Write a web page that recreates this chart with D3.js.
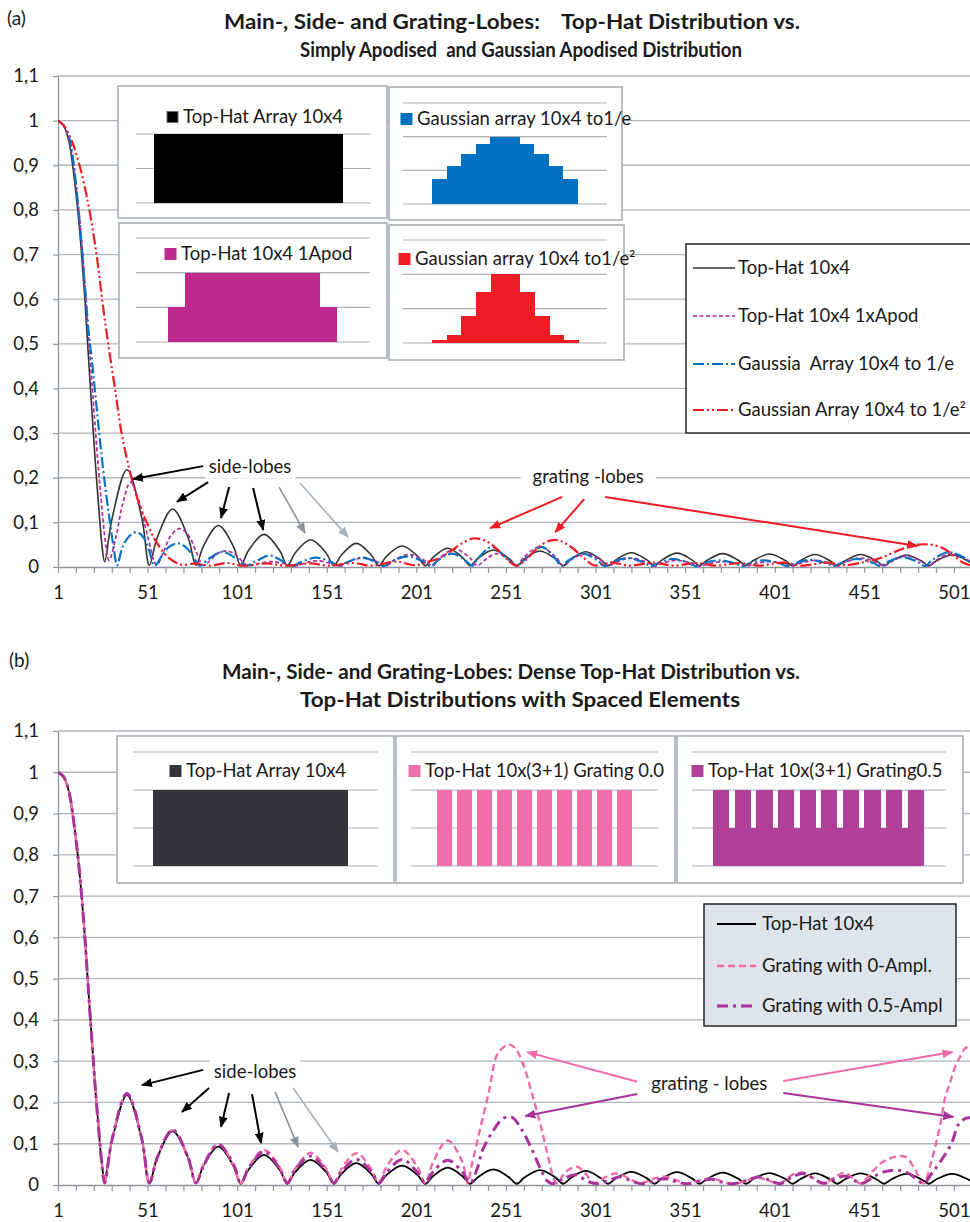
<!DOCTYPE html>
<html>
<head>
<meta charset="utf-8">
<script src="https://cdn.jsdelivr.net/npm/d3@7"></script>
<style>
  body { margin: 0; background: #fff; }
  svg text { font-family: Lato, "Open Sans", "DejaVu Sans", sans-serif; fill: #1a1a1a; }
</style>
</head>
<body>
<svg id="chart" width="970" height="1222"></svg>
<script>
// ---------- axis ticks ----------
const yTickValues = [0, 0.1, 0.2, 0.3, 0.4, 0.5, 0.6, 0.7, 0.8, 0.9, 1, 1.1];
const yTickLabels = ["0", "0,1", "0,2", "0,3", "0,4", "0,5", "0,6", "0,7", "0,8", "0,9", "1", "1,1"];
const xLabelValues = [1, 51, 101, 151, 201, 251, 301, 351, 401, 451, 501];
const xMinorValues = d3.range(1, 511, 10);

// ---------- panel (a) series: [index, relative amplitude] ----------
const topHat = [
  [1,1],[4,0.99],[7,0.955],[9,0.905],[12,0.80],[14,0.71],[16,0.60],[18,0.47],[20,0.345],[22,0.225],[24,0.12],[25.5,0.05],[27,0.012],
  [31.2,0.109],[39.5,0.218],[47.8,0.109],[52,0.004],
  [56.3,0.065],[65,0.130],[73.7,0.065],[78,0.004],
  [82.2,0.047],[90.5,0.093],[98.8,0.047],[103,0.003],
  [107.3,0.037],[116,0.073],[124.7,0.037],[129,0.003],
  [133.3,0.031],[142,0.061],[150.7,0.031],[155,0.003],
  [159.2,0.027],[167.5,0.053],[175.8,0.027],[180,0.003],
  [184.3,0.024],[193,0.047],[201.7,0.024],[206,0.003],
  [210.2,0.021],[218.5,0.042],[226.8,0.021],[231,0.003],
  [235.3,0.019],[244,0.038],[252.7,0.019],[257,0.003],
  [261.3,0.018],[270,0.036],[278.7,0.018],[283,0.003],
  [287.2,0.017],[295.5,0.034],[303.8,0.017],[308,0.003],
  [312.3,0.016],[321,0.032],[329.7,0.016],[334,0.003],
  [338.2,0.016],[346.5,0.031],[354.8,0.016],[359,0.003],
  [363.3,0.015],[372,0.030],[380.7,0.015],[385,0.003],
  [389.3,0.015],[398,0.029],[406.7,0.015],[411,0.003],
  [415.2,0.014],[423.5,0.028],[431.8,0.014],[436,0.003],
  [440.3,0.014],[449,0.028],[457.7,0.014],[462,0.003],
  [466.2,0.014],[474.5,0.027],[482.8,0.014],[487,0.003],
  [491.3,0.014],[500,0.027],[508.7,0.014],[513,0.003]
];
const topHatApod = [
  [1,1],[4,0.99],[7,0.96],[9,0.92],[12,0.82],[14,0.74],[16,0.635],[18,0.52],[20,0.41],[22,0.30],[24,0.20],[26,0.11],[28,0.04],[29.5,0.015],
  [33.5,0.07],[37,0.14],[41.5,0.19],[46,0.15],[51,0.07],[56,0.005],
  [60,0.035],[64,0.07],[69,0.086],[74,0.07],[78,0.035],[82,0.004],
  [86,0.015],[90,0.03],[95,0.036],[100,0.028],[104,0.012],[107,0.003],
  [111,0.006],[120,0.012],[129,0.006],[133,0.002],
  [137,0.007],[145.5,0.014],[154,0.007],[158,0.002],
  [162,0.01],[171,0.02],[180,0.01],[184,0.002],
  [188,0.014],[197,0.028],[206,0.014],[210,0.002],
  [214,0.02],[222.5,0.04],[231,0.02],[235,0.003],
  [239,0.015],[246,0.03],[253,0.015],[257,0.002],
  [261,0.022],[270,0.045],[279,0.022],[283,0.002],
  [287,0.015],[295.5,0.03],[304,0.015],[308,0.002],
  [312,0.01],[321,0.02],[330,0.01],[334,0.002],
  [338,0.008],[346.5,0.015],[355,0.008],[359,0.002],
  [363,0.006],[372,0.012],[381,0.006],[385,0.002],
  [389,0.006],[398,0.012],[407,0.006],[411,0.002],
  [415,0.008],[423.5,0.015],[432,0.008],[436,0.002],
  [440,0.01],[449,0.02],[458,0.01],[462,0.002],
  [466,0.012],[474.5,0.025],[483,0.012],[487,0.002],
  [491,0.015],[500,0.03],[509,0.015],[513,0.002]
];
const gaussE = [
  [1,1],[4,0.99],[7,0.965],[9,0.925],[12,0.82],[14,0.73],[16,0.63],[18,0.53],[20,0.46],[22,0.38],[24,0.30],[26,0.225],[28,0.16],[30,0.10],[32,0.045],[34,0.004],
  [37,0.045],[41,0.07],[45,0.078],[49,0.065],[52,0.035],[55,0.003],
  [59,0.025],[63,0.045],[68,0.053],[73,0.042],[77,0.02],[80,0.003],
  [85,0.018],[93,0.034],[100,0.02],[106,0.003],
  [112,0.014],[119,0.026],[126,0.014],[132,0.002],
  [136,0.01],[145,0.021],[154,0.01],[158,0.002],
  [162,0.01],[170.5,0.021],[179,0.01],[183,0.002],
  [187,0.012],[196,0.024],[205,0.012],[209,0.002],
  [213,0.015],[221,0.03],[228,0.016],[232,0.003],
  [236,0.022],[243,0.045],[251,0.022],[257,0.003],
  [263,0.022],[271,0.045],[278,0.022],[282,0.003],
  [286,0.015],[294,0.03],[302,0.015],[306,0.002],
  [310,0.01],[319,0.02],[328,0.01],[332,0.002],
  [336,0.009],[344,0.018],[353,0.009],[357,0.002],
  [361,0.008],[370,0.015],[379,0.008],[383,0.002],
  [387,0.008],[395,0.015],[404,0.008],[408,0.002],
  [412,0.008],[421,0.016],[430,0.008],[434,0.002],
  [438,0.009],[447,0.018],[456,0.009],[460,0.002],
  [464,0.011],[472,0.022],[481,0.011],[485,0.002],
  [489,0.016],[498,0.033],[507,0.02],[511,0.006]
];
const gaussE2 = [
  [1,1],[4,0.99],[7,0.97],[10,0.94],[13,0.90],[16,0.85],[18.5,0.80],[22.5,0.70],[25.6,0.60],[29,0.50],[32.8,0.40],[36.5,0.30],[42,0.20],[46,0.145],[50.5,0.10],[55,0.062],[60,0.032],[65,0.014],[70,0.005],
  [78,0.008],[86,0.003],[95,0.009],[104,0.003],[118,0.008],[128,0.003],[142,0.008],[152,0.003],[166,0.009],[176,0.003],[190,0.012],[200,0.004],
  [208,0.012],[214,0.02],[220,0.035],[226,0.052],[233,0.064],[240,0.058],[246,0.04],[252,0.016],[257,0.003],
  [262,0.016],[268,0.04],[274,0.057],[280,0.06],[287,0.046],[294,0.022],[300,0.004],
  [310,0.01],[320,0.003],[334,0.01],[344,0.003],[358,0.009],[368,0.003],[382,0.009],[392,0.003],[406,0.01],[416,0.003],[430,0.01],[440,0.004],
  [452,0.012],[460,0.02],[467,0.032],[474,0.043],[481,0.05],[488,0.05],[495,0.042],[501,0.025],[506,0.01],[510,0.004]
];

// ---------- panel (b) series ----------
const grating0 = [
  [1,1],[4,0.99],[7,0.955],[9,0.905],[12,0.80],[14,0.71],[16,0.60],[18,0.47],[20,0.345],[22,0.225],[24,0.12],[25.5,0.05],[27,0.005],
  [31.2,0.111],[39.5,0.222],[47.8,0.111],[52,0.004],
  [56.3,0.067],[65,0.133],[73.7,0.067],[78,0.004],
  [82.2,0.05],[90.5,0.100],[98.8,0.05],[103,0.004],
  [107.3,0.043],[116,0.085],[124.7,0.043],[129,0.004],
  [133.3,0.039],[142,0.078],[150.7,0.039],[155,0.004],
  [159.2,0.039],[167.5,0.077],[175.8,0.039],[180,0.004],
  [184.3,0.043],[193,0.085],[201.7,0.043],[206,0.004],
  [210.2,0.054],[218.5,0.108],[226.8,0.054],[229.5,0.005],
  [232,0.05],[236,0.125],[241.7,0.23],[246,0.315],[250,0.335],[253,0.34],[256,0.332],[260,0.30],[265.6,0.22],[270.6,0.14],[275,0.06],[278,0.012],[280,0.004],
  [283,0.025],[287,0.04],[291,0.044],[295,0.03],[300,0.005],
  [307,0.02],[313,0.028],[320,0.015],[326,0.004],
  [333,0.015],[340,0.02],[347,0.01],[352,0.003],
  [360,0.012],[366,0.016],[372,0.008],[378,0.003],
  [386,0.012],[392,0.018],[398,0.01],[404,0.004],
  [411,0.025],[417,0.03],[423,0.015],[428,0.004],
  [435,0.02],[440,0.03],[445,0.015],[449,0.004],
  [455,0.03],[461,0.055],[468,0.068],[474,0.068],[479,0.04],[484,0.004],
  [488,0.05],[491,0.10],[494,0.16],[496,0.21],[499,0.25],[502,0.29],[505,0.315],[507,0.33],[510,0.338]
];
const grating05 = [
  [1,1],[4,0.99],[7,0.955],[9,0.905],[12,0.80],[14,0.71],[16,0.60],[18,0.47],[20,0.345],[22,0.225],[24,0.12],[25.5,0.05],[27,0.005],
  [31.2,0.111],[39.5,0.222],[47.8,0.111],[52,0.005],
  [56.5,0.067],[65,0.134],[73.5,0.067],[78,0.005],
  [82.5,0.049],[90.5,0.098],[99,0.049],[103,0.005],
  [107.5,0.041],[116,0.081],[124.5,0.041],[129,0.005],
  [133,0.035],[142,0.07],[150.5,0.035],[155,0.005],
  [159,0.031],[167.5,0.062],[176,0.031],[180,0.005],
  [184.5,0.031],[193,0.062],[201.5,0.031],[206,0.005],
  [210,0.03],[218.5,0.06],[227,0.03],[231,0.005],
  [235,0.04],[238,0.085],[243,0.125],[249,0.16],[254,0.165],[260,0.133],[265.6,0.085],[270.6,0.036],[274,0.01],[277,0.003],
  [283,0.015],[290,0.025],[296,0.01],[302,0.003],
  [309,0.012],[315,0.02],[321,0.01],[327,0.003],
  [334,0.01],[340,0.015],[346,0.008],[352,0.003],
  [360,0.01],[366,0.014],[372,0.006],[378,0.003],
  [386,0.012],[392,0.02],[398,0.012],[404,0.003],
  [411,0.02],[417,0.028],[423,0.015],[428,0.004],
  [435,0.015],[440,0.022],[445,0.012],[450,0.004],
  [457,0.022],[463,0.033],[469,0.036],[475,0.03],[480,0.015],[484,0.004],
  [489,0.03],[494,0.06],[499.6,0.10],[504,0.15],[508,0.162],[510,0.163]
];

// ---------- aperture distributions shown in the insets ----------
const topHatBars   = [1,1,1,1,1,1,1,1,1,1];
const apodBars     = [0.5,1,1,1,1,1,1,1,1,0.5];
const gaussEBars   = [0.37,0.57,0.74,0.89,1,1,0.89,0.74,0.57,0.37];
const gaussE2Bars  = [0.045,0.12,0.39,0.75,1,1,0.75,0.39,0.12,0.045];
const grating0Bars = [1,1,1,0,1,1,1,0,1,1,1,0,1,1,1,0,1,1,1,0,1,1,1,0,1,1,1,0,1,1,1,0,1,1,1,0,1,1,1];
const grating05Bars= [1,1,1,0.5,1,1,1,0.5,1,1,1,0.5,1,1,1,0.5,1,1,1,0.5,1,1,1,0.5,1,1,1,0.5,1,1,1,0.5,1,1,1,0.5,1,1,1];

// ---------- legend labels ----------
const legendA = ["Top-Hat 10x4", "Top-Hat 10x4 1xApod", "Gaussia  Array 10x4 to 1/e", "Gaussian Array 10x4 to 1/e\u00B2"];
const legendB = ["Top-Hat 10x4", "Grating with 0-Ampl.", "Grating with 0.5-Ampl"];

// ---------- drawing ----------
const svg = d3.select("#chart");
const defs = svg.append("defs");
const X_LEFT = 58, X_RIGHT = 970;
const x = d3.scaleLinear().domain([1, 510]).range([X_LEFT, X_RIGHT]);

const styleA = [
  { data: topHat,     color: "#333333", width: 1.6, dash: null },
  { data: topHatApod, color: "#B52A9C", width: 1.7, dash: "4,2.5" },
  { data: gaussE,     color: "#0A72C4", width: 2.2, dash: "11,3,2,3" },
  { data: gaussE2,    color: "#EE1C25", width: 2.2, dash: "11,3,2,3,2,3" }
];
const styleB = [
  { data: topHat,    color: "#000000", width: 1.8, dash: null },
  { data: grating0,  color: "#F06AA8", width: 2.4, dash: "7,4" },
  { data: grating05, color: "#A8339A", width: 3,   dash: "11,5,3,5" }
];

function arrowMarker(color) {
  const id = "ah" + color.replace("#", "");
  if (defs.select("#" + id).empty()) {
    defs.append("marker").attr("id", id)
      .attr("viewBox", "0 0 11 9").attr("refX", 10).attr("refY", 4.5)
      .attr("markerWidth", 11).attr("markerHeight", 9)
      .attr("markerUnits", "userSpaceOnUse").attr("orient", "auto")
      .append("path").attr("d", "M0,0L11,4.5L0,9Z").attr("fill", color);
  }
  return id;
}

function drawPanel(cfg) {
  const g = svg.append("g");
  const y = d3.scaleLinear().domain([0, 1.1]).range([cfg.bottom, cfg.top]);

  // tag and title
  g.append("text").attr("x", cfg.tagX).attr("y", cfg.tagY).attr("font-size", 19).text(cfg.tag);
  cfg.title.forEach((t, i) => {
    g.append("text").attr("x", cfg.titleX[i]).attr("y", cfg.titleY[i])
      .attr("text-anchor", "middle").attr("font-weight", 700).attr("font-size", 20.5)
      .attr("textLength", cfg.titleLen[i]).attr("lengthAdjust", "spacingAndGlyphs")
      .style("white-space", "pre").text(t);
  });

  // horizontal gridlines
  g.append("g").selectAll("line").data(yTickValues.filter(v => v > 0)).join("line")
    .attr("x1", X_LEFT).attr("x2", X_RIGHT)
    .attr("y1", d => y(d)).attr("y2", d => y(d))
    .attr("stroke", "#AEB5BD").attr("stroke-width", 1.3);

  // y axis
  const yAxis = d3.axisLeft(y).tickValues(yTickValues)
    .tickFormat((d, i) => yTickLabels[i]).tickSize(5).tickPadding(14).tickSizeOuter(0);
  const ya = g.append("g").attr("transform", `translate(${X_LEFT},0)`).call(yAxis);
  ya.select(".domain").attr("stroke", "#8E959C").attr("stroke-width", 1.3);
  ya.selectAll(".tick line").attr("stroke", "#8E959C").attr("stroke-width", 1.2);
  ya.selectAll("text").attr("font-size", 18.5).attr("fill", "#1a1a1a").attr("font-family", "Lato, sans-serif");

  // x axis
  const xAxis = d3.axisBottom(x).tickValues(xMinorValues)
    .tickFormat(d => xLabelValues.includes(d) ? String(d) : "").tickSize(6).tickPadding(13).tickSizeOuter(0);
  const xa = g.append("g").attr("transform", `translate(0,${cfg.bottom})`).call(xAxis);
  xa.select(".domain").attr("stroke", "#8E959C").attr("stroke-width", 1.3);
  xa.selectAll(".tick line").attr("stroke", "#8E959C").attr("stroke-width", 1.2);
  xa.selectAll("text").attr("font-size", 18.5).attr("fill", "#1a1a1a").attr("font-family", "Lato, sans-serif");

  // curves
  const clipId = "clip" + cfg.tag.replace(/\W/g, "");
  defs.append("clipPath").attr("id", clipId).append("rect")
    .attr("x", X_LEFT).attr("y", cfg.top - 5).attr("width", X_RIGHT - X_LEFT).attr("height", cfg.bottom - cfg.top + 8);
  const line = d3.line().x(d => x(d[0])).y(d => y(Math.max(0, d[1]))).curve(d3.curveCatmullRom.alpha(0.5));
  const cg = g.append("g").attr("clip-path", `url(#${clipId})`);
  cfg.series.forEach(s => {
    cg.append("path").datum(s.data).attr("d", line)
      .attr("fill", "none").attr("stroke", s.color).attr("stroke-width", s.width)
      .attr("stroke-dasharray", s.dash).attr("stroke-linejoin", "round");
  });

  // insets
  cfg.insets.forEach(ins => drawInset(g, ins));

  // legend
  const L = cfg.legend;
  const lg = g.append("g");
  lg.append("rect").attr("x", L.x).attr("y", L.y).attr("width", L.w).attr("height", L.h)
    .attr("fill", L.fill).attr("stroke", "#262626").attr("stroke-width", 1.5);
  L.labels.forEach((lab, i) => {
    const s = cfg.series[i];
    const ly = L.rowY[i];
    lg.append("line").attr("x1", L.lineX[0]).attr("x2", L.lineX[1]).attr("y1", ly).attr("y2", ly)
      .attr("stroke", s.color).attr("stroke-width", s.width).attr("stroke-dasharray", s.dash);
    lg.append("text").attr("x", L.textX).attr("y", ly).attr("dy", "0.35em")
      .attr("font-size", L.fontSize).style("white-space", "pre").text(lab);
  });

  // annotations
  cfg.notes.forEach(n => {
    const ng = g.append("g");
    n.arrows.forEach(a => {
      ng.append("line")
        .attr("x1", x(a.from[0])).attr("y1", y(a.from[1]))
        .attr("x2", x(a.to[0])).attr("y2", y(a.to[1]))
        .attr("stroke", a.color).attr("stroke-width", a.w || 2)
        .attr("marker-end", `url(#${arrowMarker(a.color)})`);
    });
    const tg = ng.append("g");
    const t = tg.append("text").attr("x", x(n.at[0])).attr("y", y(n.at[1])).attr("dy", "0.35em")
      .attr("text-anchor", "middle").attr("font-size", 18.5).style("white-space", "pre").text(n.label);
    const bb = t.node().getBBox();
    tg.insert("rect", "text").attr("x", bb.x - n.pad[0]).attr("y", bb.y - n.pad[1])
      .attr("width", bb.width + 2 * n.pad[0]).attr("height", bb.height + 2 * n.pad[1]).attr("fill", "#fff");
  });
}

function drawInset(g, ins) {
  const ig = g.append("g");
  ig.append("rect").attr("x", ins.box[0]).attr("y", ins.box[1]).attr("width", ins.box[2]).attr("height", ins.box[3])
    .attr("fill", "#fff").attr("stroke", "#A9B0B7").attr("stroke-width", 1.6);
  const yi = d3.scaleLinear().domain([0, ins.max]).range([ins.base, ins.topY]);
  ig.selectAll("line.grid").data(ins.grid).join("line").attr("class", "grid")
    .attr("x1", ins.gridX[0]).attr("x2", ins.gridX[1]).attr("y1", d => yi(d)).attr("y2", d => yi(d))
    .attr("stroke", "#AAB1B9").attr("stroke-width", 1.2);
  const xb = d3.scaleBand().domain(d3.range(ins.bars.length)).range(ins.barX).padding(0);
  ig.append("g").attr("shape-rendering", "crispEdges")
    .selectAll("rect").data(ins.bars).join("rect")
    .attr("x", (d, i) => xb(i)).attr("width", xb.bandwidth())
    .attr("y", d => yi(d)).attr("height", d => ins.base - yi(d))
    .attr("fill", ins.color);
  ig.append("rect").attr("x", ins.sq[0]).attr("y", ins.sq[1] - 5.5).attr("width", 11).attr("height", 11)
    .attr("fill", ins.color).attr("stroke", ins.sqStroke || ins.color).attr("stroke-width", 1);
  ig.append("text").attr("x", ins.sq[0] + 16).attr("y", ins.sq[1]).attr("dy", "0.35em")
    .attr("font-size", 18.5).text(ins.label);
}

// ---------- panel (a) ----------
drawPanel({
  tag: "(a)", tagX: 7, tagY: 25, top: 76, bottom: 567,
  title: ["Main-, Side- and Grating-Lobes:    Top-Hat Distribution vs.", "Simply Apodised  and Gaussian Apodised Distribution"],
  titleX: [512, 521], titleY: [29, 57], titleLen: [576, 442],
  series: styleA,
  insets: [
    { box: [118, 86, 269, 132], gridX: [136, 371], base: 203, topY: 134, max: 1, grid: [0, 0.5, 1],
      barX: [154, 343], bars: topHatBars, color: "#000000", sqStroke: "#6b6b6b", sq: [167, 117], label: "Top-Hat Array 10x4" },
    { box: [389, 87, 233, 133], gridX: [403, 607], base: 204, topY: 103, max: 1.5, grid: [0, 0.5, 1, 1.5],
      barX: [432, 578], bars: gaussEBars, color: "#0070C0", sq: [401, 119], label: "Gaussian array 10x4 to1/e" },
    { box: [119, 223, 268, 135], gridX: [136, 370], base: 342, topY: 238, max: 1.5, grid: [0, 0.5, 1, 1.5],
      barX: [168, 337], bars: apodBars, color: "#BE2A90", sq: [165, 254], label: "Top-Hat 10x4 1Apod" },
    { box: [389, 225, 235, 135], gridX: [403, 607], base: 343, topY: 240, max: 1.5, grid: [0, 0.5, 1, 1.5],
      barX: [432, 579], bars: gaussE2Bars, color: "#EE1C25", sq: [399, 259], label: "Gaussian array 10x4 to1/e\u00B2" }
  ],
  legend: { x: 686, y: 244, w: 300, h: 189, fill: "#ffffff", rowY: [268, 316, 364, 410], lineX: [693, 735], textX: 738, fontSize: 18.5, labels: legendA },
  notes: [
    { label: "side-lobes", at: [108.2, 0.224], pad: [4, 1], arrows: [
      { from: [82, 0.226], to: [42.9, 0.197], color: "#000000" },
      { from: [84.8, 0.190], to: [67.4, 0.146], color: "#000000" },
      { from: [96.5, 0.179], to: [92, 0.110], color: "#000000" },
      { from: [109.9, 0.177], to: [115.5, 0.083], color: "#000000" },
      { from: [124.4, 0.179], to: [138.9, 0.076], color: "#8A939C", w: 1.6 },
      { from: [136.1, 0.188], to: [162.9, 0.067], color: "#A9B1B9", w: 1.6 } ] },
    { label: "grating -lobes", at: [296.9, 0.2016], pad: [12, 3], arrows: [
      { from: [282.4, 0.157], to: [242.2, 0.087], color: "#EE1C25" },
      { from: [294.7, 0.152], to: [278.5, 0.078], color: "#EE1C25" },
      { from: [306.4, 0.157], to: [480.6, 0.047], color: "#EE1C25" } ] }
  ]
});

// ---------- panel (b) ----------
drawPanel({
  tag: "(b)", tagX: 9, tagY: 667, top: 731, bottom: 1185,
  title: ["Main-, Side- and Grating-Lobes: Dense Top-Hat Distribution vs.", "Top-Hat Distributions with Spaced Elements"],
  titleX: [511, 520], titleY: [679, 707], titleLen: [578, 440],
  series: styleB,
  insets: [
    { box: [117, 736, 277, 147], gridX: [133, 378], base: 866, topY: 752, max: 1.5, grid: [0, 0.5, 1, 1.5],
      barX: [153, 348], bars: topHatBars, color: "#333539", sq: [170, 771], label: "Top-Hat Array 10x4" },
    { box: [396, 736, 279, 147], gridX: [411, 658], base: 866, topY: 752, max: 1.5, grid: [0, 0.5, 1, 1.5],
      barX: [437, 632], bars: grating0Bars, color: "#EF70AA", sq: [409, 771], label: "Top-Hat 10x(3+1) Grating 0.0" },
    { box: [677, 736, 286, 147], gridX: [692, 946], base: 866, topY: 752, max: 1.5, grid: [0, 0.5, 1, 1.5],
      barX: [713, 924], bars: grating05Bars, color: "#B0409A", sq: [692, 771], label: "Top-Hat 10x(3+1) Grating0.5" }
  ],
  legend: { x: 704, y: 904, w: 252, h: 122, fill: "#DEE4EB", rowY: [924, 966, 1006], lineX: [717, 756], textX: 762, fontSize: 18.5, labels: legendB },
  notes: [
    { label: "side-lobes", at: [111, 0.274], pad: [4, 1], arrows: [
      { from: [82, 0.279], to: [47.9, 0.242], color: "#000000" },
      { from: [85.3, 0.235], to: [70.2, 0.177], color: "#000000" },
      { from: [96.5, 0.223], to: [92, 0.141], color: "#000000" },
      { from: [109.3, 0.220], to: [114.3, 0.102], color: "#000000" },
      { from: [122.2, 0.225], to: [135, 0.092], color: "#8A939C", w: 1.6 },
      { from: [132.2, 0.235], to: [157.3, 0.080], color: "#A9B1B9", w: 1.6 } ] },
    { label: "grating - lobes", at: [364.5, 0.247], pad: [4, 1], arrows: [
      { from: [324.3, 0.250], to: [262.9, 0.322], color: "#F06AA8" },
      { from: [324.3, 0.2205], to: [261.8, 0.167], color: "#A8339A" },
      { from: [405.8, 0.252], to: [500.2, 0.322], color: "#F06AA8" },
      { from: [405.8, 0.223], to: [500.7, 0.165], color: "#A8339A" } ] }
  ]
});
</script>
</body>
</html>
